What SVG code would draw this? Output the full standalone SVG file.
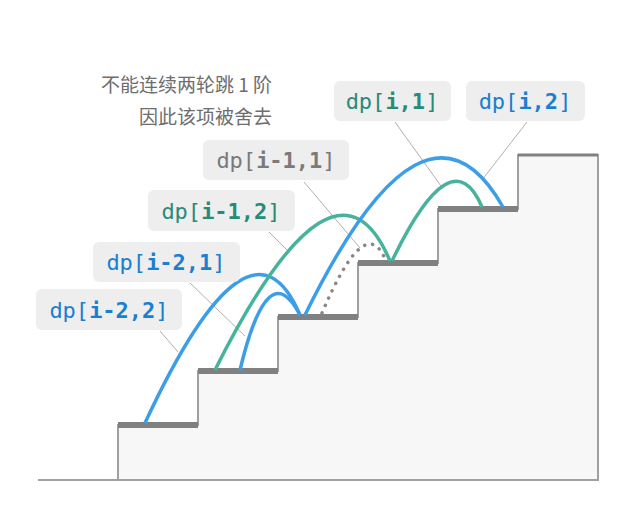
<svg xmlns="http://www.w3.org/2000/svg" width="641" height="528" viewBox="0 0 641 528">
<style>
.lbl{fill:#eeeeee}
.t{font-family:"DejaVu Sans Mono","Liberation Mono",monospace;font-size:22px}
.b{font-weight:bold}
.blue{fill:#1a7fd0}.green{fill:#2a8a78}.gray{fill:#7a7a7a}
.lead{stroke:#b0b0b0;stroke-width:1;fill:none}
.arcB{stroke:#3d9ee8;stroke-width:3.5;fill:none}
.arcG{stroke:#48b39d;stroke-width:3.5;fill:none}
.tread{stroke:#808080;stroke-width:6}
.cn{font-family:"Noto Sans CJK SC",sans-serif;font-size:19px;fill:#6e6e6e}
</style>
<rect width="641" height="528" fill="#ffffff"/>
<g id="stairs">
<path d="M118,480 V425 H198 V371 H278 V317 H358 V263 H438 V209 H518 V155 H598 V480 Z" fill="#f7f7f7" stroke="#a0a0a0" stroke-width="2"/>
<line x1="38" y1="480" x2="118" y2="480" stroke="#a0a0a0" stroke-width="2"/>
<line class="tread" x1="118" y1="425" x2="198" y2="425"/>
<line class="tread" x1="198" y1="371" x2="278" y2="371"/>
<line class="tread" x1="278" y1="317" x2="358" y2="317"/>
<line class="tread" x1="358" y1="263" x2="438" y2="263"/>
<line class="tread" x1="438" y1="209" x2="518" y2="209"/>
<line x1="518" y1="155" x2="598" y2="155" stroke="#808080" stroke-width="3"/>
</g>
<g id="connectors">
<path class="lead" d="M395,122 L441,186"/>
<path class="lead" d="M527,122 L482,180"/>
<path class="lead" d="M304,182 L360,248"/>
<path class="lead" d="M269,232 L288,251"/>
<path class="lead" d="M190,283 L245,336"/>
<path class="lead" d="M160,331 L178,352"/>
<path class="arcB" d="M145,423 Q250,197 300,315"/>
<path class="arcB" d="M240,370 Q268,253 300,315"/>
<path class="arcG" d="M215,370 Q335,131 390,261"/>
<path d="M322,313 Q365,212 385,259" fill="none" stroke="#888" stroke-width="3.5" stroke-dasharray="0.1 8" stroke-linecap="round"/>
<path class="arcB" d="M305,315 Q425,70 503,207"/>
<path class="arcG" d="M392,261 Q452,136 482,207"/>
</g>
<g id="note">
<text class="cn" x="272" y="92" text-anchor="end">不能连续两轮跳 1 阶</text>
<text class="cn" x="272" y="124" text-anchor="end">因此该项被舍去</text>
</g>
<g id="n-i1"><rect class="lbl" x="334" y="81" width="117" height="40" rx="6"/>
<text class="t green" x="392" y="109" text-anchor="middle">dp[<tspan class="b">i,1</tspan>]</text></g>
<g id="n-i2"><rect class="lbl" x="466" y="81" width="119" height="40" rx="6"/>
<text class="t blue" x="525" y="109" text-anchor="middle">dp[<tspan class="b">i,2</tspan>]</text></g>
<g id="n-i11"><rect class="lbl" x="203" y="140" width="146" height="40" rx="6"/>
<text class="t gray" x="276" y="168" text-anchor="middle">dp[<tspan class="b">i-1,1</tspan>]</text></g>
<g id="n-i12"><rect class="lbl" x="148" y="190" width="147" height="41" rx="6"/>
<text class="t green" x="221" y="219" text-anchor="middle">dp[<tspan class="b">i-1,2</tspan>]</text></g>
<g id="n-i21"><rect class="lbl" x="93" y="242" width="147" height="40" rx="6"/>
<text class="t blue" x="166" y="270" text-anchor="middle">dp[<tspan class="b">i-2,1</tspan>]</text></g>
<g id="n-i22"><rect class="lbl" x="36" y="289" width="146" height="41" rx="6"/>
<text class="t blue" x="109" y="318" text-anchor="middle">dp[<tspan class="b">i-2,2</tspan>]</text></g>
</svg>
